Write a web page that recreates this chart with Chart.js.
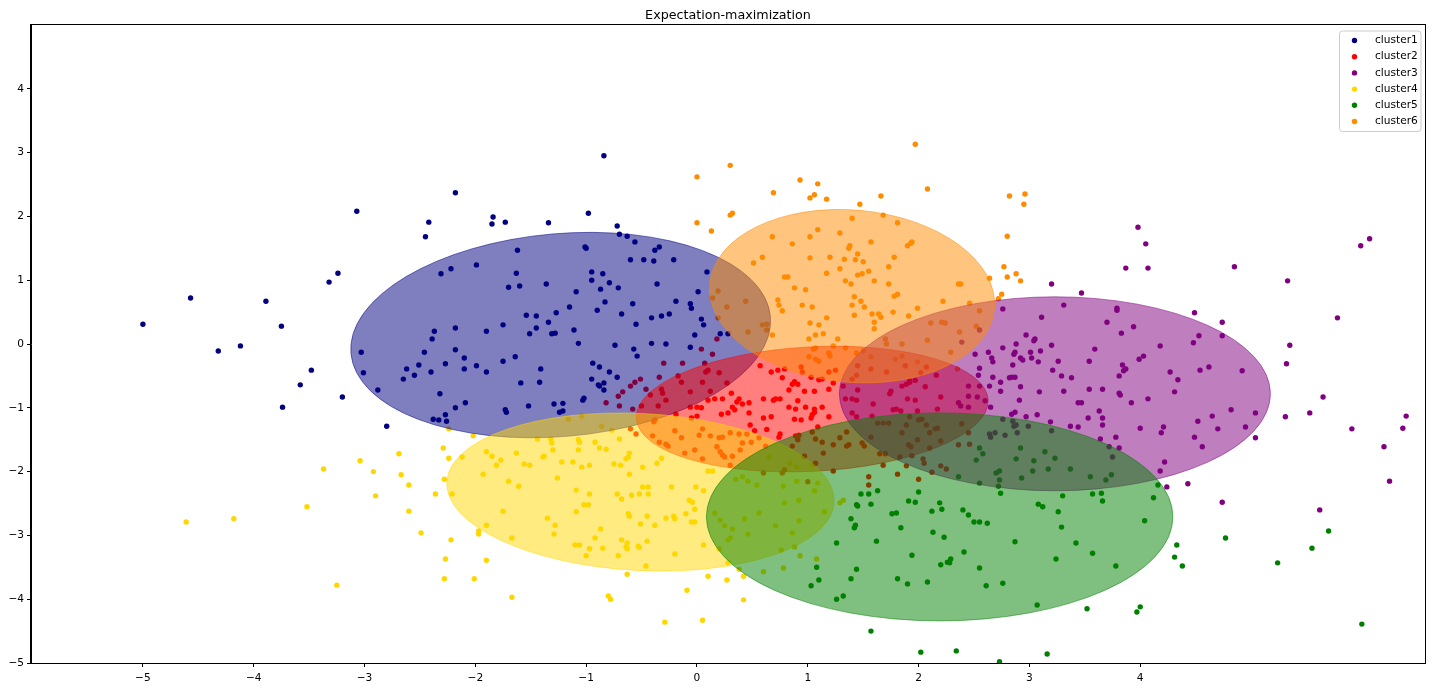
<!DOCTYPE html>
<html>
<head>
<meta charset="utf-8">
<script src="https://cdn.jsdelivr.net/npm/chart.js@4"></script>
<style>
html, body { margin: 0; padding: 0; background: #fff; }
</style>
</head>
<body>
<canvas id="chart" width="1440" height="689"></canvas>
<script>
const chartTitle = 'Expectation-maximization';
const clusterNames = ['cluster1', 'cluster2', 'cluster3', 'cluster4', 'cluster5', 'cluster6'];
const clusterColors = ['#000080', '#ff0000', '#800080', '#ffd700', '#008000', '#ff8c00'];
const xTicks = [-5, -4, -3, -2, -1, 0, 1, 2, 3, 4];
const yTicks = [-5, -4, -3, -2, -1, 0, 1, 2, 3, 4];

// fitted gaussians: centre, full width / height (data units), visual tilt in degrees
const ellipseCx = [-1.23, 1.04, 3.23, -0.51, 2.19, 1.40];
const ellipseCy = [0.14, -1.02, -0.78, -2.32, -2.71, 0.75];
const ellipseW = [3.80, 3.18, 3.89, 3.50, 4.21, 2.58];
const ellipseH = [3.18, 1.95, 3.04, 2.46, 3.26, 2.70];
const ellipseAngle = [-5, -3, 0, 3, 0, 5];

const cluster1 = [
  [-5.00,0.31],[-4.57,0.72],[-4.32,-0.11],[-4.12,-0.03],[-3.89,0.67],[-3.75,0.28],[-3.74,-0.99],[-3.58,-0.64],
  [-3.48,-0.41],[-3.32,0.97],[-3.24,1.11],[-3.20,-0.83],[-3.07,2.08],[-3.03,-0.13],[-3.01,-0.45],[-2.88,-0.72],
  [-2.80,-1.29],[-2.18,2.37],[-2.42,1.91],[-2.45,1.68],[-1.84,1.99],[-1.85,1.88],[-1.73,1.91],[-1.34,1.90],
  [-0.98,2.05],[-0.84,2.95],[-0.72,1.85],[-0.70,1.72],[-0.63,1.69],[-0.56,1.60],[-1.01,1.52],[-1.00,1.50],
  [-1.62,1.47],[-0.38,1.47],[-0.34,1.52],[-0.60,1.32],[-0.48,1.32],[-0.39,1.30],[-0.21,1.32],[-2.31,1.10],
  [-2.22,1.18],[-1.99,1.24],[-1.63,1.11],[-1.70,0.89],[-1.60,0.91],[-1.36,0.94],[-0.95,1.13],[-0.85,1.10],
  [-0.95,1.00],[-0.79,0.96],[-0.87,0.86],[-0.71,0.88],[-1.09,0.82],[-0.36,0.94],[0.09,1.13],[0.01,0.82],
  [-0.83,0.66],[-0.58,0.63],[-0.19,0.67],[-0.06,0.63],[-0.05,0.56],[-1.15,0.58],[-0.90,0.53],[-1.54,0.45],
  [-1.45,0.44],[-1.27,0.49],[-0.68,0.47],[-0.41,0.41],[-0.32,0.44],[-0.25,0.47],[0.04,0.39],[0.06,0.30],
  [-2.37,0.20],[-2.39,0.08],[-2.18,0.25],[-1.90,0.20],[-1.75,0.30],[-1.45,0.25],[-1.51,0.16],[-1.34,0.34],
  [-1.31,0.16],[-1.28,0.17],[-1.11,0.22],[-1.07,0.01],[-0.55,0.31],[-0.74,-0.02],[-0.57,-0.08],[-0.54,-0.19],
  [-0.41,0.01],[-0.28,0.00],[-0.06,-0.05],[-0.02,0.14],[0.21,0.16],[0.28,0.16],[-2.46,-0.13],[-2.62,-0.39],
  [-2.65,-0.55],[-2.55,-0.49],[-2.51,-0.33],[-2.40,-0.44],[-2.27,-0.31],[-2.18,-0.09],[-2.10,-0.22],[-2.10,-0.39],
  [-1.99,-0.34],[-1.90,-0.44],[-1.75,-0.27],[-1.64,-0.20],[-1.41,-0.39],[-1.59,-0.61],[-1.42,-0.60],[-2.32,-0.78],
  [-2.09,-0.92],[-2.18,-1.00],[-2.27,-1.11],[-2.38,-1.18],[-2.33,-1.19],[-2.26,-1.21],[-1.73,-1.03],[-1.72,-1.07],
  [-1.52,-0.97],[-1.29,-0.94],[-1.21,-0.93],[-1.24,-1.07],[-1.21,-1.05],[-1.03,-0.88],[-1.02,-0.85],[-0.94,-0.30],
  [-0.88,-0.36],[-0.79,-0.44],[-0.72,-0.52],[-0.95,-0.55],[-0.89,-0.64],[-0.84,-0.61],[-0.88,-0.66],[-0.84,-0.72]
];
const cluster2 = [
  [0.18,0.08],[0.04,-0.08],[0.14,-0.16],[-0.30,-0.30],[-0.13,-0.30],[0.07,-0.30],[-0.34,-0.52],[-0.51,-0.55],
  [-0.56,-0.60],[-0.60,-0.66],[-0.67,-0.75],[-0.71,-0.82],[-0.70,-0.97],[-0.82,-0.92],[-0.58,-1.02],[-0.46,-0.71],
  [-0.42,-0.80],[-0.17,-0.50],[-0.14,-0.60],[-0.32,-0.71],[-0.31,-0.77],[-0.35,-0.97],[-0.28,-0.88],[-0.50,-0.97],
  [-0.06,-0.75],[0.05,-0.60],[0.08,-0.44],[0.10,-0.41],[0.20,-0.45],[0.12,-0.74],[0.27,-0.61],[0.10,-0.88],
  [0.16,-0.86],[0.23,-0.86],[-0.19,-1.10],[-0.06,-0.99],[0.00,-0.99],[0.04,-1.00],[0.00,-1.13],[0.22,-1.10],
  [-0.05,-1.16],[0.28,-1.08],[-0.60,-1.33],[-0.55,-1.41],[-0.39,-1.22],[-0.38,-1.19],[-0.34,-1.54],[-0.28,-1.57],
  [-0.26,-1.60],[-0.40,-1.44],[-0.20,-1.36],[-0.14,-1.47],[-0.11,-1.71],[-0.02,-1.66],[0.02,-1.43],[0.05,-1.33],
  [0.12,-1.44],[0.20,-1.47],[0.23,-1.46],[0.18,-1.61],[0.21,-1.69],[0.23,-1.74],[0.05,-1.80],[0.25,-1.77],
  [0.30,-1.39],[0.38,-1.41],[0.45,-1.41],[0.41,-1.55],[0.49,-1.54],[0.56,-1.47],[0.39,-1.66],[0.62,-1.60],
  [0.32,-1.76],[0.30,-1.90],[0.94,-0.36],[0.95,-0.44],[1.19,-0.44],[1.25,-0.41],[1.45,-0.34],[1.57,-0.39],
  [1.71,-0.44],[1.44,-0.49],[1.40,-0.55],[1.88,-0.34],[2.07,-0.36],[2.02,-0.45],[2.16,-0.49],[1.92,-0.60],
  [1.97,-0.57],[0.57,-0.34],[0.67,-0.44],[0.73,-0.41],[0.79,-0.39],[0.77,-0.53],[0.86,-0.63],[0.88,-0.59],
  [0.91,-0.63],[1.03,-0.52],[1.10,-0.56],[1.13,-0.55],[0.83,-0.72],[0.97,-0.74],[1.06,-0.74],[1.19,-0.71],
  [1.23,-0.61],[0.31,-0.77],[0.38,-0.86],[0.36,-0.91],[0.47,-0.92],[0.60,-0.86],[0.69,-0.88],[0.71,-0.86],
  [0.75,-0.86],[0.83,-0.99],[0.89,-1.02],[0.91,-0.89],[0.98,-0.99],[1.06,-1.02],[1.06,-1.07],[1.04,-1.11],
  [1.03,-1.16],[1.13,-0.99],[0.32,-0.99],[0.34,-1.03],[0.41,-0.94],[0.47,-1.08],[0.60,-1.16],[0.67,-1.14],
  [0.88,-1.18],[0.94,-1.19],[1.19,-1.14],[0.48,-1.27],[0.52,-1.36],[0.75,-1.41],[0.74,-1.46],[1.09,-1.30],
  [0.63,-1.34],[1.32,-0.66],[1.34,-0.86],[1.40,-0.86],[1.44,-0.88],[1.45,-0.72],[1.59,-0.94],[1.40,-1.08],
  [1.44,-1.14],[1.58,-1.13],[1.75,-0.74],[1.74,-0.78],[1.85,-0.66],[1.89,-0.63],[1.92,-0.58],[1.90,-0.86],
  [1.97,-0.88],[2.06,-0.67],[1.77,-1.03],[1.80,-1.02],[1.84,-1.05],[1.99,-1.05],[2.17,-1.02],[2.20,-0.83],
  [1.63,-1.24],[1.68,-1.24],[1.73,-1.24],[1.92,-1.14],[2.00,-1.19],[2.03,-1.18],[1.89,-1.27],[2.07,-1.27],
  [2.15,-1.33],[2.17,-1.32],[2.10,-1.39],[2.39,-1.25],[2.45,-1.39],[1.85,-1.39],[1.57,-1.46],[1.49,-1.55],
  [1.51,-1.60],[1.35,-1.60],[1.37,-1.58],[1.29,-1.47],[1.35,-1.38],[1.23,-1.58],[1.13,-1.54],[1.07,-1.49],
  [1.04,-1.38],[0.91,-1.50],[0.89,-1.44],[0.92,-1.43],[0.86,-1.60],[0.97,-1.76],[1.14,-1.71],[0.60,-2.02],
  [0.77,-2.02],[0.79,-1.97],[1.00,-2.16],[1.07,-1.87],[1.23,-1.99],[1.55,-2.08],[1.55,-2.21],[1.81,-2.04],
  [1.89,-1.91],[2.00,-2.12],[2.04,-1.80],[2.05,-1.87],[2.20,-1.91],[2.12,-2.01],[2.10,-1.63],[2.20,-1.52],
  [2.36,-1.58],[2.46,-1.57],[1.68,-1.90],[1.83,-1.77],[1.94,-1.75],[1.65,-1.72],[1.70,-1.72],[1.91,-1.58],
  [1.93,-1.61],[1.99,-1.50],[2.25,-1.96]
];
const cluster3 = [
  [2.36,-0.92],[2.38,-0.97],[2.45,-0.99],[2.45,-0.82],[2.45,-0.66],[2.53,-0.83],[2.60,-0.89],[2.55,-0.66],
  [2.55,0.22],[2.39,0.03],[2.76,0.55],[3.20,0.94],[3.31,0.61],[3.11,0.42],[2.97,0.14],[3.04,0.05],
  [3.05,0.08],[2.88,0.00],[2.76,-0.06],[2.63,-0.13],[2.51,-0.16],[2.66,-0.22],[2.67,-0.28],[2.86,-0.16],
  [2.87,-0.13],[2.92,-0.22],[2.94,-0.25],[3.01,-0.13],[3.10,-0.11],[3.02,-0.22],[3.08,-0.28],[3.20,-0.02],
  [3.26,-0.27],[2.85,-0.33],[2.55,-0.38],[3.21,-0.41],[2.54,-0.49],[2.67,-0.52],[2.74,-0.60],[2.82,-0.53],
  [2.84,-0.52],[2.87,-0.52],[2.92,-0.67],[2.64,-0.66],[2.74,-0.74],[3.09,-0.75],[3.29,-0.50],[3.38,-0.53],
  [3.31,-0.74],[3.44,-0.92],[2.91,-0.88],[2.65,-0.99],[2.84,-1.10],[2.87,-1.07],[2.97,-1.14],[3.07,-1.11],
  [3.19,-1.22],[3.37,-1.29],[3.44,-1.30],[2.76,-1.18],[2.85,-1.21],[2.88,-1.27],[2.86,-1.29],[2.99,-1.29],
  [2.89,-1.39],[2.78,-1.43],[2.64,-1.41],[2.65,-1.46],[2.69,-1.39],[3.20,-1.36],[3.79,0.53],[4.49,0.49],
  [4.74,0.34],[5.78,0.41],[3.70,0.34],[3.94,0.27],[3.83,0.17],[4.53,0.13],[4.74,0.13],[4.48,0.02],
  [4.18,-0.03],[3.59,-0.08],[3.54,-0.27],[5.35,-0.02],[5.32,-0.31],[3.84,-0.33],[3.87,-0.39],[3.85,-0.42],
  [3.99,-0.24],[4.03,-0.19],[3.81,-0.50],[4.27,-0.44],[4.34,-0.56],[4.54,-0.41],[4.62,-0.36],[4.92,-0.42],
  [3.54,-0.71],[3.66,-0.71],[3.81,-0.77],[3.82,-0.80],[4.31,-0.75],[4.07,-0.86],[3.92,-0.92],[3.47,-0.92],
  [3.63,-1.05],[3.53,-1.16],[3.66,-1.16],[3.66,-1.27],[4.00,-1.32],[4.21,-1.30],[4.19,-1.39],[4.52,-1.21],
  [4.65,-1.13],[4.82,-1.03],[5.04,-1.08],[4.95,-1.30],[4.70,-1.33],[4.49,-1.46],[4.56,-1.61],[5.04,-1.47],
  [5.31,-1.14],[5.53,-1.08],[5.65,-0.83],[5.91,-1.33],[6.37,-1.32],[6.40,-1.13],[6.20,-1.61],[6.25,-2.15],
  [3.64,-1.49],[3.78,-1.46],[3.81,-1.63],[4.22,-1.85],[4.18,-1.99],[4.24,-2.24],[4.43,-2.19],[3.98,1.83],
  [4.05,1.57],[3.87,1.19],[4.07,1.19],[4.85,1.21],[5.33,0.99],[5.99,1.54],[6.07,1.65],[3.47,0.80],
  [3.79,0.56],[4.74,-2.48],[5.62,-2.60],[3.72,-1.61],[3.75,-1.77]
];
const cluster4 = [
  [-3.37,-1.96],[-3.04,-1.83],[-2.92,-2.00],[-4.61,-2.79],[-4.18,-2.74],[-3.52,-2.55],[-2.90,-2.38],[-3.25,-3.78],
  [-2.24,-1.33],[-2.02,-1.44],[-2.29,-1.63],[-2.24,-1.79],[-2.69,-1.72],[-2.67,-2.05],[-2.60,-2.21],[-2.28,-2.12],
  [-2.12,-1.77],[-1.90,-1.69],[-1.85,-1.76],[-1.77,-1.82],[-1.81,-1.90],[-1.63,-1.71],[-1.56,-1.88],[-1.51,-1.90],
  [-1.93,-2.04],[-1.70,-2.15],[-1.61,-2.23],[-1.39,-1.77],[-1.38,-1.76],[-1.30,-1.66],[-1.31,-1.55],[-1.32,-1.49],
  [-1.44,-1.49],[-1.22,-1.85],[-1.26,-2.10],[-1.12,-1.85],[-1.04,-1.93],[-0.97,-1.90],[-1.07,-1.66],[-1.07,-1.50],
  [-1.06,-1.54],[-0.92,-1.54],[-0.88,-1.63],[-0.82,-1.65],[-0.77,-1.35],[-0.70,-1.49],[-0.64,-1.80],[-0.62,-1.77],
  [-0.61,-1.71],[-0.75,-1.88],[-0.69,-1.90],[-0.61,-2.04],[-0.49,-1.93],[-0.36,-1.87],[-0.32,-1.79],[-0.49,-2.24],
  [-0.44,-2.24],[-0.23,-2.24],[-0.01,-2.24],[0.10,-1.99],[0.14,-1.99],[-1.04,-1.13],[-1.16,-1.18],[-0.86,-1.29],
  [-2.36,-2.35],[-2.21,-2.35],[-2.60,-2.62],[-2.49,-2.96],[-2.22,-3.07],[-2.27,-3.37],[-2.28,-3.68],[-2.01,-3.68],
  [-1.90,-3.39],[-1.97,-2.93],[-1.97,-2.98],[-1.90,-2.84],[-1.75,-2.62],[-1.67,-3.04],[-1.67,-3.97],[-1.35,-2.73],
  [-1.28,-2.84],[-1.29,-2.98],[-1.09,-2.63],[-1.09,-2.29],[-1.02,-2.52],[-0.98,-2.52],[-0.97,-2.35],[-0.87,-2.90],
  [-0.92,-3.04],[-1.10,-3.15],[-1.06,-3.15],[-0.97,-3.21],[-1.00,-3.32],[-0.85,-3.20],[-0.80,-3.95],[-0.78,-4.00],
  [-0.72,-2.35],[-0.68,-2.43],[-0.59,-2.37],[-0.52,-2.35],[-0.44,-2.35],[-0.62,-2.66],[-0.61,-2.70],[-0.45,-2.70],
  [-0.51,-2.82],[-0.38,-2.84],[-0.28,-2.73],[-0.21,-2.70],[-0.20,-2.74],[-0.10,-2.66],[-0.07,-2.45],[-0.04,-2.48],
  [-0.02,-2.59],[-0.05,-2.79],[-0.02,-2.79],[-0.68,-3.07],[-0.63,-3.12],[-0.63,-3.21],[-0.64,-3.18],[-0.53,-3.17],
  [-0.52,-3.19],[-0.45,-3.09],[-0.71,-3.32],[-0.46,-3.48],[-0.63,-3.61],[-0.20,-3.29],[-0.09,-3.86],[-0.29,-4.36],
  [0.05,-4.33],[0.06,-2.30],[0.06,-3.15],[0.10,-3.64],[0.27,-3.70],[0.20,-3.21],[0.28,-3.43],[0.38,-3.53],
  [0.42,-3.64],[0.42,-4.01],[0.79,-2.49],[0.92,-2.45],[1.06,-2.30],[0.56,-2.65],[0.43,-2.74],[0.32,-2.90],
  [0.46,-2.98],[0.71,-2.85],[0.92,-2.77],[1.15,-2.63],[0.86,-2.96],[0.30,-3.04],[0.76,-3.23],[0.88,-3.18],
  [0.93,-3.32],[1.08,-3.37],[0.60,-3.57],[0.78,-3.51],[1.29,-2.49],[1.32,-2.45],[0.65,-1.77],[0.84,-1.87],
  [0.90,-1.93],[1.04,-1.90],[0.41,-2.08],[0.35,-2.12],[0.46,-2.15],[0.54,-2.21],[0.90,-2.15],[0.78,-2.23],
  [1.09,-2.18],[0.16,-2.65],[0.21,-2.76],[0.25,-2.85],[0.28,-3.07]
];
const cluster5 = [
  [1.48,-2.35],[1.55,-2.35],[1.63,-2.30],[2.00,-2.32],[1.44,-2.52],[1.45,-2.54],[1.57,-2.51],[1.91,-2.46],
  [1.97,-2.48],[2.19,-2.49],[2.21,-2.59],[1.76,-2.66],[1.80,-2.65],[2.12,-2.62],[2.40,-2.60],[2.45,-2.68],
  [2.50,-2.79],[2.55,-2.79],[2.62,-2.81],[1.39,-2.74],[1.43,-2.84],[1.42,-2.88],[1.84,-2.88],[2.13,-2.95],
  [2.23,-3.03],[1.26,-3.12],[1.62,-3.09],[2.41,-3.26],[2.87,-3.10],[1.94,-3.31],[2.20,-3.46],[2.26,-3.42],
  [2.29,-3.37],[2.28,-3.43],[2.55,-3.51],[1.08,-3.50],[1.44,-3.53],[1.10,-3.70],[1.03,-3.79],[1.39,-3.68],
  [1.81,-3.68],[1.90,-3.76],[2.08,-3.73],[2.61,-3.79],[2.76,-3.75],[3.24,-3.37],[3.07,-4.09],[1.26,-4.00],
  [1.32,-3.95],[1.57,-4.50],[2.02,-4.83],[2.34,-4.81],[2.73,-4.98],[3.16,-4.86],[3.08,-2.51],[3.12,-2.55],
  [3.26,-2.63],[3.30,-2.38],[3.29,-2.87],[3.42,-3.12],[2.74,-2.34],[2.36,-2.08],[2.55,-2.18],[2.73,-2.13],
  [2.72,-2.23],[3.57,-2.35],[3.66,-2.46],[4.04,-2.77],[3.57,-3.28],[3.78,-3.48],[4.33,-3.15],[4.31,-3.34],
  [4.38,-3.48],[4.77,-3.04],[5.24,-3.43],[5.55,-3.20],[5.70,-2.93],[6.00,-4.39],[3.52,-4.15],[4.00,-4.12],
  [3.97,-4.20],[3.65,-2.34],[4.12,-2.41],[3.74,-2.05],[3.55,-2.08],[3.69,-2.13],[4.16,-2.21],[2.92,-1.63],
  [3.14,-1.69],[3.23,-1.79],[3.37,-1.96],[3.17,-1.96],[3.04,-1.83],[2.88,-1.80],[3.03,-1.99],[2.93,-2.10],
  [2.70,-2.02],[2.73,-1.99],[2.58,-1.72],[2.52,-1.82],[2.55,-1.63]
];
const cluster6 = [
  [1.97,3.13],[0.30,2.80],[0.93,2.57],[1.09,2.51],[0.69,2.37],[1.02,2.29],[1.06,2.34],[1.17,2.27],
  [1.66,2.32],[2.08,2.43],[1.47,2.19],[2.82,2.32],[2.96,2.35],[2.95,2.19],[0.32,2.05],[0.30,2.02],
  [1.40,1.97],[1.68,2.02],[1.81,1.90],[2.80,1.69],[0.68,1.68],[0.86,1.57],[1.02,1.68],[1.09,1.79],
  [1.29,1.74],[1.37,1.50],[1.38,1.54],[1.57,1.60],[1.90,1.54],[1.93,1.58],[1.94,1.60],[0.59,1.36],
  [0.51,1.27],[1.02,1.35],[1.20,1.36],[1.33,1.33],[1.43,1.32],[1.50,1.29],[1.45,1.41],[1.78,1.36],
  [1.29,1.18],[1.17,1.11],[1.45,1.08],[1.49,1.10],[1.55,1.14],[1.60,0.99],[1.73,1.21],[1.73,0.94],
  [1.34,0.99],[1.39,0.94],[0.79,1.05],[0.82,1.05],[0.88,0.88],[0.98,0.85],[1.42,0.74],[1.48,0.67],
  [1.40,0.61],[1.51,0.58],[0.95,0.61],[1.04,0.58],[0.73,0.69],[0.74,0.61],[1.78,0.75],[1.81,0.78],
  [2.22,0.67],[2.36,0.94],[2.38,0.94],[2.46,0.64],[2.64,1.03],[2.75,0.78],[2.72,0.71],[2.77,1.21],
  [2.80,1.05],[2.88,1.10],[2.92,0.99],[1.99,0.56],[0.44,0.67],[0.00,2.62],[0.00,1.90],[0.13,1.77],
  [0.19,0.83],[0.14,0.72],[0.27,0.58],[0.19,0.41],[0.77,0.52],[1.02,0.33],[1.10,0.30],[1.17,0.41],
  [1.42,0.45],[1.58,0.47],[1.64,0.47],[1.66,0.42],[1.60,0.34],[1.77,0.50],[1.91,0.44],[2.11,0.33],
  [2.21,0.34],[2.24,0.33],[2.52,0.28],[2.55,0.52],[1.01,0.08],[1.07,0.14],[1.14,0.16],[0.68,0.14],
  [0.59,0.30],[0.63,0.31],[0.63,0.22],[0.46,0.19],[1.27,0.08],[1.60,0.24],[1.70,0.08],[1.71,0.00],
  [1.85,0.00],[2.08,0.06],[2.37,0.19],[2.29,-0.13],[1.05,-0.08],[1.07,-0.06],[1.23,-0.03],[1.34,-0.06],
  [1.44,-0.14],[1.19,-0.14],[1.20,-0.19],[1.01,-0.20],[1.07,-0.24],[1.10,-0.27],[1.50,-0.11],[1.57,-0.20],
  [1.79,-0.24],[1.85,-0.19],[1.99,-0.28],[2.35,-0.39]
];
const clusters = [cluster1, cluster2, cluster3, cluster4, cluster5, cluster6];

const fontFamily = "'DejaVu Sans', sans-serif";
const minus = v => String(v).replace('-', '\u2212');

// gaussian ellipses drawn over the points, like matplotlib patches with alpha .5
const ellipsePlugin = {
    id: 'ellipses',
    afterDatasetsDraw(chart) {
        const { ctx, chartArea: a, scales: { x, y } } = chart;
        ctx.save();
        ctx.beginPath();
        ctx.rect(a.left, a.top, a.right - a.left, a.bottom - a.top);
        ctx.clip();
        ellipseCx.forEach((cx, i) => {
            const px = x.getPixelForValue(cx);
            const py = y.getPixelForValue(ellipseCy[i]);
            const rx = Math.abs(x.getPixelForValue(cx + ellipseW[i] / 2) - px);
            const ry = Math.abs(y.getPixelForValue(ellipseCy[i] + ellipseH[i] / 2) - py);
            ctx.beginPath();
            ctx.ellipse(px, py, rx, ry, ellipseAngle[i] * Math.PI / 180, 0, 2 * Math.PI);
            ctx.globalAlpha = 0.5;
            ctx.fillStyle = clusterColors[i];
            ctx.fill();
            ctx.strokeStyle = clusterColors[i];
            ctx.lineWidth = 1;
            ctx.stroke();
        });
        ctx.restore();
    }
};

// frame, title and the legend box in the upper right corner
const decorPlugin = {
    id: 'decor',
    afterDraw(chart) {
        const { ctx, chartArea: a } = chart;
        ctx.save();
        ctx.strokeStyle = '#000';
        ctx.lineWidth = 1;
        ctx.strokeRect(a.left - 0.5, a.top - 0.5, a.right - a.left + 1, a.bottom - a.top + 1);

        ctx.fillStyle = '#000';
        ctx.font = '12.7px ' + fontFamily;
        ctx.textAlign = 'center';
        ctx.textBaseline = 'alphabetic';
        ctx.fillText(chartTitle, (a.left + a.right) / 2, a.top - 6.5);

        const bx = a.right - 86, by = a.top + 5.5, bw = 81.5, bh = 100.5;
        ctx.beginPath();
        ctx.roundRect(bx + 0.5, by + 0.5, bw, bh, 3);
        ctx.fillStyle = 'rgba(255,255,255,0.8)';
        ctx.fill();
        ctx.strokeStyle = '#cccccc';
        ctx.stroke();

        ctx.font = '10.6px ' + fontFamily;
        ctx.textAlign = 'left';
        ctx.textBaseline = 'middle';
        clusterNames.forEach((name, i) => {
            const ry = by + 10 + i * 16.2;
            ctx.beginPath();
            ctx.arc(bx + 15.5, ry, 2.7, 0, 2 * Math.PI);
            ctx.fillStyle = clusterColors[i];
            ctx.fill();
            ctx.fillStyle = '#000';
            ctx.fillText(name, bx + 36, ry);
        });
        ctx.restore();
    }
};

function axis(min, max, ticks, fit, pad) {
    return {
        type: 'linear',
        min: min,
        max: max,
        afterBuildTicks: s => { s.ticks = ticks.map(v => ({ value: v })); },
        afterFit: fit,
        grid: { drawOnChartArea: false, drawTicks: true, tickLength: 4, color: '#000', lineWidth: 1 },
        border: { display: true, color: '#000', width: 1 },
        ticks: {
            color: '#000',
            font: { family: fontFamily, size: 10.6 },
            padding: pad,
            autoSkip: false,
            maxRotation: 0,
            callback: v => minus(v)
        }
    };
}

new Chart(document.getElementById('chart'), {
    type: 'scatter',
    data: {
        datasets: clusters.map((pts, i) => ({
            label: clusterNames[i],
            data: pts.map(p => ({ x: p[0], y: p[1] })),
            backgroundColor: clusterColors[i],
            borderWidth: 0,
            pointRadius: 2.7,
            pointHoverRadius: 2.7
        }))
    },
    options: {
        responsive: false,
        animation: false,
        events: [],
        layout: { padding: { top: 25, right: 15, left: 0, bottom: 0 } },
        scales: {
            x: axis(-6.01, 6.57, xTicks, s => { s.height = 26; }, 5),
            y: axis(-5, 5, yTicks, s => { s.width = 31; }, 3)
        },
        plugins: {
            legend: { display: false },
            tooltip: { enabled: false },
            title: { display: false }
        }
    },
    plugins: [ellipsePlugin, decorPlugin]
});
</script>
</body>
</html>
